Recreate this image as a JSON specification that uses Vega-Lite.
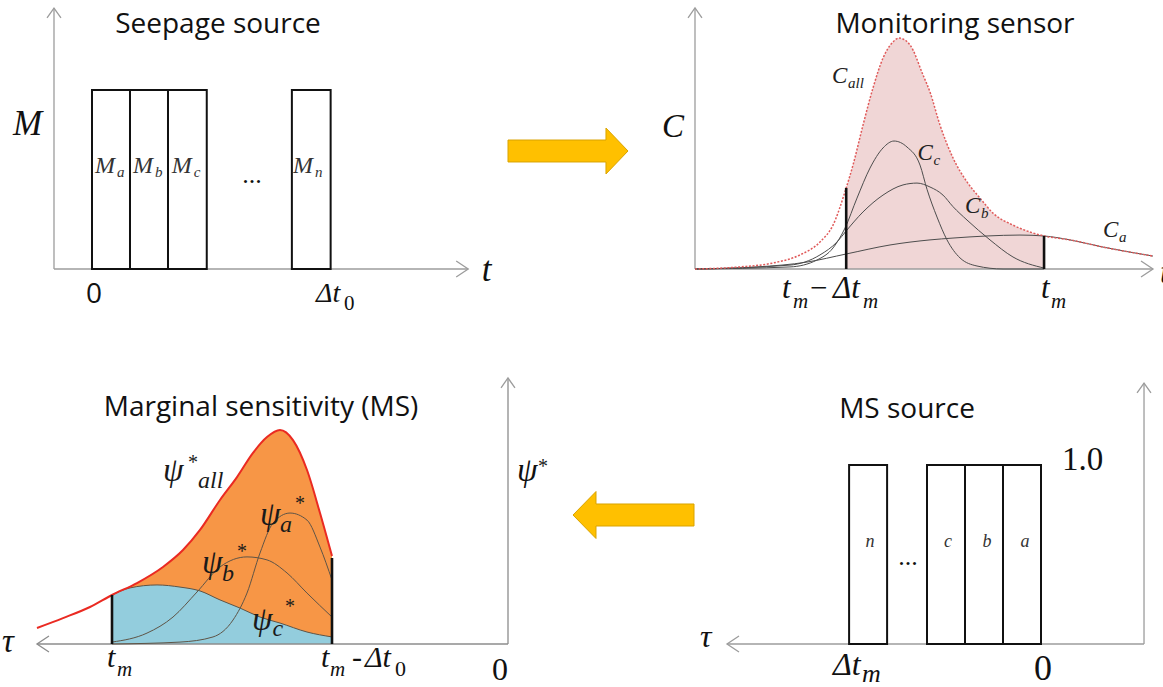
{
  "$schema": "https://vega.github.io/schema/vega-lite/v6.json",
  "background": "white",
  "padding": 0,
  "spacing": 0,
  "bounds": "full",
  "config": {"view": {"stroke": null}},
  "datasets": {
    "sourceBars": [
      {"source": "a", "t": 0, "t_end": 1, "M": 1},
      {"source": "b", "t": 1, "t_end": 2, "M": 1},
      {"source": "c", "t": 2, "t_end": 3.02, "M": 1},
      {"source": "n", "t": 5.26, "t_end": 6.28, "M": 1}
    ],
    "sourceAxes": [
      {"axis": "t", "t": 9.9, "M": 0},
      {"axis": "M", "t": -1, "M": 1.458}
    ],
    "sourceTitle": [{"t": 3.316, "M": 1.318, "label": "Seepage source"}],
    "sourceSymbols": [
      {"t": -2.079, "M": 0.749, "label": "M"},
      {"t": 10.26, "M": -0.067, "label": "t"}
    ],
    "sourceBarLabels": [
      {"t": 0.08, "M": 0.536, "main": "M", "sub": "a"},
      {"t": 1.08, "M": 0.536, "main": "M", "sub": "b"},
      {"t": 2.1, "M": 0.536, "main": "M", "sub": "c"},
      {"t": 5.29, "M": 0.536, "main": "M", "sub": "n"}
    ],
    "sourceDots": [{"t": 4.21, "M": 0.48, "label": "..."}],
    "sourceZero": [{"t": 0.05, "M": -0.19, "label": "0"}],
    "sourceTickMain": [{"t": 5.895, "M": -0.184, "label": "Δt"}],
    "sourceTickSub": [{"t": 6.632, "M": -0.229, "label": "0"}],

    "sensorAxes": [
      {"axis": "t", "t": 21.204, "C": 0},
      {"axis": "C", "t": 0, "C": 1.13}
    ],
    "sensorCurves": [
      {"curve": "C_all", "t": 0, "C": 0},
      {"curve": "C_all", "t": 2.083, "C": 0.009},
      {"curve": "C_all", "t": 3.611, "C": 0.026},
      {"curve": "C_all", "t": 4.861, "C": 0.061},
      {"curve": "C_all", "t": 5.787, "C": 0.117},
      {"curve": "C_all", "t": 6.389, "C": 0.19},
      {"curve": "C_all", "t": 7, "C": 0.351},
      {"curve": "C_all", "t": 7.315, "C": 0.45},
      {"curve": "C_all", "t": 7.778, "C": 0.623},
      {"curve": "C_all", "t": 8.241, "C": 0.784},
      {"curve": "C_all", "t": 8.704, "C": 0.913},
      {"curve": "C_all", "t": 9.167, "C": 0.983},
      {"curve": "C_all", "t": 9.444, "C": 1.0},
      {"curve": "C_all", "t": 9.954, "C": 0.97},
      {"curve": "C_all", "t": 10.556, "C": 0.84},
      {"curve": "C_all", "t": 10.88, "C": 0.766},
      {"curve": "C_all", "t": 11.343, "C": 0.623},
      {"curve": "C_all", "t": 11.944, "C": 0.481},
      {"curve": "C_all", "t": 12.593, "C": 0.377},
      {"curve": "C_all", "t": 13.194, "C": 0.307},
      {"curve": "C_all", "t": 13.796, "C": 0.242},
      {"curve": "C_all", "t": 14.722, "C": 0.19},
      {"curve": "C_all", "t": 15.648, "C": 0.156},
      {"curve": "C_all", "t": 16.16, "C": 0.143},
      {"curve": "C_all", "t": 17.361, "C": 0.126},
      {"curve": "C_all", "t": 18.889, "C": 0.095},
      {"curve": "C_all", "t": 21.204, "C": 0.056},

      {"curve": "C_a", "t": 0, "C": 0},
      {"curve": "C_a", "t": 2.87, "C": 0.009},
      {"curve": "C_a", "t": 5.185, "C": 0.03},
      {"curve": "C_a", "t": 7, "C": 0.065},
      {"curve": "C_a", "t": 9.028, "C": 0.104},
      {"curve": "C_a", "t": 10.88, "C": 0.126},
      {"curve": "C_a", "t": 11.944, "C": 0.134},
      {"curve": "C_a", "t": 13.519, "C": 0.143},
      {"curve": "C_a", "t": 15.046, "C": 0.147},
      {"curve": "C_a", "t": 16.16, "C": 0.143},
      {"curve": "C_a", "t": 17.361, "C": 0.126},
      {"curve": "C_a", "t": 18.889, "C": 0.095},
      {"curve": "C_a", "t": 21.204, "C": 0.056},

      {"curve": "C_b", "t": 0, "C": 0},
      {"curve": "C_b", "t": 4.398, "C": 0.017},
      {"curve": "C_b", "t": 5.787, "C": 0.061},
      {"curve": "C_b", "t": 6.574, "C": 0.117},
      {"curve": "C_b", "t": 7.0, "C": 0.165},
      {"curve": "C_b", "t": 7.778, "C": 0.247},
      {"curve": "C_b", "t": 8.704, "C": 0.32},
      {"curve": "C_b", "t": 9.63, "C": 0.364},
      {"curve": "C_b", "t": 10.278, "C": 0.372},
      {"curve": "C_b", "t": 10.88, "C": 0.355},
      {"curve": "C_b", "t": 11.481, "C": 0.32},
      {"curve": "C_b", "t": 11.944, "C": 0.27},
      {"curve": "C_b", "t": 12.593, "C": 0.212},
      {"curve": "C_b", "t": 13.657, "C": 0.126},
      {"curve": "C_b", "t": 14.722, "C": 0.052},
      {"curve": "C_b", "t": 16.16, "C": 0.004},

      {"curve": "C_c", "t": 0, "C": 0},
      {"curve": "C_c", "t": 4.398, "C": 0.009},
      {"curve": "C_c", "t": 5.648, "C": 0.039},
      {"curve": "C_c", "t": 6.389, "C": 0.091},
      {"curve": "C_c", "t": 6.944, "C": 0.177},
      {"curve": "C_c", "t": 7.5, "C": 0.307},
      {"curve": "C_c", "t": 8.102, "C": 0.437},
      {"curve": "C_c", "t": 8.704, "C": 0.524},
      {"curve": "C_c", "t": 9.213, "C": 0.554},
      {"curve": "C_c", "t": 9.815, "C": 0.528},
      {"curve": "C_c", "t": 10.417, "C": 0.45},
      {"curve": "C_c", "t": 10.741, "C": 0.345},
      {"curve": "C_c", "t": 11.204, "C": 0.225},
      {"curve": "C_c", "t": 11.667, "C": 0.126},
      {"curve": "C_c", "t": 12.269, "C": 0.048},
      {"curve": "C_c", "t": 13.056, "C": 0.013},
      {"curve": "C_c", "t": 14.259, "C": 0},
      {"curve": "C_c", "t": 16.16, "C": 0}
    ],
    "sensorWindow": [
      {"edge": "t_m - Δt_m", "t": 7, "C": 0.351},
      {"edge": "t_m", "t": 16.16, "C": 0.143}
    ],
    "sensorTitle": [{"t": 12.037, "C": 1.022, "label": "Monitoring sensor"}],
    "sensorSymbols": [
      {"t": -1.528, "C": 0.571, "label": "C"},
      {"t": 21.528, "C": -0.061, "label": "t"}
    ],
    "sensorCurveLabels": [
      {"t": 6.343, "C": 0.805, "main": "C", "sub": "all"},
      {"t": 10.3, "C": 0.472, "main": "C", "sub": "c"},
      {"t": 12.5, "C": 0.242, "main": "C", "sub": "b"},
      {"t": 18.889, "C": 0.139, "main": "C", "sub": "a"}
    ],
    "sensorTickMain": [
      {"t": 4.028, "C": -0.1255, "label": "t"},
      {"t": 5.231, "C": -0.1255, "label": "−"},
      {"t": 6.389, "C": -0.1255, "label": "Δt"},
      {"t": 16.019, "C": -0.1255, "label": "t"}
    ],
    "sensorTickSub": [
      {"t": 4.537, "C": -0.169, "label": "m"},
      {"t": 7.778, "C": -0.169, "label": "m"},
      {"t": 16.481, "C": -0.169, "label": "m"}
    ],

    "msAxes": [
      {"axis": "tau", "tau": 21.41, "psi": 0},
      {"axis": "psi", "tau": 0, "psi": 1.243}
    ],
    "msCurves": [
      {"curve": "psi_all", "tau": 21.409, "psi": 0.075},
      {"curve": "psi_all", "tau": 20.227, "psi": 0.121},
      {"curve": "psi_all", "tau": 19.0, "psi": 0.173},
      {"curve": "psi_all", "tau": 18.0, "psi": 0.229},
      {"curve": "psi_all", "tau": 16.864, "psi": 0.285},
      {"curve": "psi_all", "tau": 15.682, "psi": 0.36},
      {"curve": "psi_all", "tau": 14.773, "psi": 0.439},
      {"curve": "psi_all", "tau": 14.0, "psi": 0.533},
      {"curve": "psi_all", "tau": 13.091, "psi": 0.673},
      {"curve": "psi_all", "tau": 12.318, "psi": 0.78},
      {"curve": "psi_all", "tau": 11.591, "psi": 0.893},
      {"curve": "psi_all", "tau": 10.955, "psi": 0.967},
      {"curve": "psi_all", "tau": 10.364, "psi": 1.0},
      {"curve": "psi_all", "tau": 9.773, "psi": 0.953},
      {"curve": "psi_all", "tau": 9.136, "psi": 0.813},
      {"curve": "psi_all", "tau": 8.545, "psi": 0.612},
      {"curve": "psi_all", "tau": 8.0, "psi": 0.411},

      {"curve": "psi_c", "tau": 18.0, "psi": 0.229},
      {"curve": "psi_c", "tau": 17.182, "psi": 0.262},
      {"curve": "psi_c", "tau": 15.955, "psi": 0.276},
      {"curve": "psi_c", "tau": 14.909, "psi": 0.266},
      {"curve": "psi_c", "tau": 14.0, "psi": 0.248},
      {"curve": "psi_c", "tau": 13.091, "psi": 0.206},
      {"curve": "psi_c", "tau": 12.182, "psi": 0.168},
      {"curve": "psi_c", "tau": 11.273, "psi": 0.126},
      {"curve": "psi_c", "tau": 10.364, "psi": 0.098},
      {"curve": "psi_c", "tau": 9.136, "psi": 0.056},
      {"curve": "psi_c", "tau": 8.0, "psi": 0.033},

      {"curve": "psi_b", "tau": 18.0, "psi": 0.009},
      {"curve": "psi_b", "tau": 16.409, "psi": 0.051},
      {"curve": "psi_b", "tau": 15.227, "psi": 0.126},
      {"curve": "psi_b", "tau": 14.136, "psi": 0.243},
      {"curve": "psi_b", "tau": 13.091, "psi": 0.36},
      {"curve": "psi_b", "tau": 11.864, "psi": 0.407},
      {"curve": "psi_b", "tau": 10.955, "psi": 0.393},
      {"curve": "psi_b", "tau": 10.045, "psi": 0.332},
      {"curve": "psi_b", "tau": 9.136, "psi": 0.238},
      {"curve": "psi_b", "tau": 8.0, "psi": 0.126},

      {"curve": "psi_a", "tau": 18.0, "psi": 0},
      {"curve": "psi_a", "tau": 14.909, "psi": 0.009},
      {"curve": "psi_a", "tau": 13.409, "psi": 0.033},
      {"curve": "psi_a", "tau": 12.5, "psi": 0.112},
      {"curve": "psi_a", "tau": 11.864, "psi": 0.238},
      {"curve": "psi_a", "tau": 11.273, "psi": 0.425},
      {"curve": "psi_a", "tau": 10.682, "psi": 0.565},
      {"curve": "psi_a", "tau": 9.909, "psi": 0.612},
      {"curve": "psi_a", "tau": 9.136, "psi": 0.579},
      {"curve": "psi_a", "tau": 8.545, "psi": 0.453},
      {"curve": "psi_a", "tau": 8.0, "psi": 0.299}
    ],
    "msWindow": [
      {"edge": "t_m", "tau": 18, "psi": 0.229},
      {"edge": "t_m - Δt_0", "tau": 8, "psi": 0.402}
    ],
    "msTitle": [{"tau": 11.227, "psi": 1.065, "label": "Marginal sensitivity (MS)"}],
    "msSymbols": [
      {"tau": 23.0, "psi": -0.037, "label": "τ"},
      {"tau": -0.409, "psi": 0.762, "label": "ψ"}
    ],
    "msPsi": [
      {"tau": 15.682, "psi": 0.762, "label": "ψ"},
      {"tau": 11.273, "psi": 0.556, "label": "ψ"},
      {"tau": 13.909, "psi": 0.332, "label": "ψ"},
      {"tau": 11.636, "psi": 0.065, "label": "ψ"}
    ],
    "msSubs": [
      {"tau": 14.091, "psi": 0.729, "label": "all"},
      {"tau": 10.364, "psi": 0.523, "label": "a"},
      {"tau": 13.0, "psi": 0.294, "label": "b"},
      {"tau": 10.7, "psi": 0.037, "label": "c"}
    ],
    "msStars": [
      {"tau": 14.545, "psi": 0.818, "label": "*"},
      {"tau": 9.682, "psi": 0.626, "label": "*"},
      {"tau": 12.318, "psi": 0.402, "label": "*"},
      {"tau": 10.136, "psi": 0.145, "label": "*"},
      {"tau": -1.364, "psi": 0.799, "label": "*"}
    ],
    "msTickMain": [
      {"tau": 18.227, "psi": -0.107, "label": "t"},
      {"tau": 8.5, "psi": -0.107, "label": "t"},
      {"tau": 7.091, "psi": -0.107, "label": "-"},
      {"tau": 6.5, "psi": -0.107, "label": "Δt"}
    ],
    "msTickSub": [
      {"tau": 17.773, "psi": -0.15, "label": "m"},
      {"tau": 8.091, "psi": -0.15, "label": "m"}
    ],
    "msTickSubDigit": [{"tau": 5.136, "psi": -0.15, "label": "0"}],
    "msZero": [{"tau": 0.364, "psi": -0.168, "label": "0"}],

    "msSourceAxes": [
      {"axis": "tau", "tau": 8.263, "ms": 0},
      {"axis": "ms", "tau": -2.711, "ms": 1.458}
    ],
    "msSourceBars": [
      {"source": "a", "tau": 0, "tau_end": 1, "ms": 1.0},
      {"source": "b", "tau": 1, "tau_end": 2, "ms": 1.0},
      {"source": "c", "tau": 2, "tau_end": 3, "ms": 1.0},
      {"source": "n", "tau": 4.05, "tau_end": 5.05, "ms": 1.0}
    ],
    "msSourceTitle": [{"tau": 3.526, "ms": 1.263, "label": "MS source"}],
    "msSourceBarLabels": [
      {"tau": 0.421, "ms": 0.542, "label": "a"},
      {"tau": 1.421, "ms": 0.542, "label": "b"},
      {"tau": 2.447, "ms": 0.542, "label": "c"},
      {"tau": 4.5, "ms": 0.542, "label": "n"}
    ],
    "msSourceDots": [{"tau": 3.5, "ms": 0.441, "label": "..."}],
    "msSourceUnit": [{"tau": -0.553, "ms": 0.972, "label": "1.0"}],
    "msSourceSymbols": [{"tau": 8.974, "ms": -0.017, "label": "τ"}],
    "msSourceTickMain": [{"tau": 5.474, "ms": -0.173, "label": "Δt"}],
    "msSourceTickSub": [{"tau": 4.711, "ms": -0.212, "label": "m"}],
    "msSourceZero": [{"tau": -0.053, "ms": -0.201, "label": "0"}]
  },
  "vconcat": [
    {
      "spacing": 0,
      "bounds": "flush",
      "hconcat": [
        {
          "width": 500,
          "height": 350,
          "encoding": {
            "x": {"field": "t", "type": "quantitative", "scale": {"domain": [-2.421, 10.737], "nice": false, "zero": false}, "axis": null},
            "y": {"field": "M", "type": "quantitative", "scale": {"domain": [-0.4525, 1.5028], "nice": false, "zero": false}, "axis": null}
          },
          "layer": [
            {"data": {"name": "sourceAxes"}, "mark": {"type": "rule", "stroke": "#9c9c9c", "strokeWidth": 1.3}, "encoding": {"x2": {"datum": -1}, "y2": {"datum": 0}}},
            {"data": {"name": "sourceAxes"}, "transform": [{"filter": "datum.axis == 't'"}], "mark": {"type": "point", "shape": "M-1,-0.67L0,0L-1,0.67", "size": 576, "filled": false, "stroke": "#9c9c9c", "strokeWidth": 1.3, "opacity": 1}},
            {"data": {"name": "sourceAxes"}, "transform": [{"filter": "datum.axis == 'M'"}], "mark": {"type": "point", "shape": "M-0.58,0.83L0,0L0.58,0.83", "size": 576, "filled": false, "stroke": "#9c9c9c", "strokeWidth": 1.3, "opacity": 1}},
            {"data": {"name": "sourceBars"}, "mark": {"type": "rect", "fill": "white", "stroke": "#111111", "strokeWidth": 2}, "encoding": {"x2": {"field": "t_end"}, "y2": {"datum": 0}}},
            {"data": {"name": "sourceTitle"}, "mark": {"type": "text", "font": "Open Sans", "fontSize": 28, "align": "center", "baseline": "alphabetic", "color": "#111111"}, "encoding": {"text": {"field": "label"}}},
            {"data": {"name": "sourceSymbols"}, "mark": {"type": "text", "font": "Liberation Serif", "fontStyle": "italic", "fontSize": 35, "align": "left", "baseline": "alphabetic", "color": "#111111"}, "encoding": {"text": {"field": "label"}}},
            {"data": {"name": "sourceBarLabels"}, "mark": {"type": "text", "font": "Liberation Serif", "fontStyle": "italic", "fontSize": 24, "align": "left", "baseline": "alphabetic", "color": "#333333"}, "encoding": {"text": {"field": "main"}}},
            {"data": {"name": "sourceBarLabels"}, "mark": {"type": "text", "font": "Liberation Serif", "fontStyle": "italic", "fontSize": 15, "align": "left", "baseline": "alphabetic", "dx": 22, "dy": 4, "color": "#333333"}, "encoding": {"text": {"field": "sub"}}},
            {"data": {"name": "sourceDots"}, "mark": {"type": "text", "font": "Liberation Serif", "fontSize": 26, "align": "center", "baseline": "alphabetic", "color": "#111111"}, "encoding": {"text": {"field": "label"}}},
            {"data": {"name": "sourceZero"}, "mark": {"type": "text", "font": "Open Sans", "fontSize": 28, "align": "center", "baseline": "alphabetic", "color": "#111111"}, "encoding": {"text": {"field": "label"}}},
            {"data": {"name": "sourceTickMain"}, "mark": {"type": "text", "font": "Liberation Serif", "fontStyle": "italic", "fontSize": 28, "align": "left", "baseline": "alphabetic", "color": "#111111"}, "encoding": {"text": {"field": "label"}}},
            {"data": {"name": "sourceTickSub"}, "mark": {"type": "text", "font": "Liberation Serif", "fontSize": 21, "align": "left", "baseline": "alphabetic", "color": "#111111"}, "encoding": {"text": {"field": "label"}}}
          ]
        },
        {
          "width": 136,
          "height": 302,
          "data": {"values": [{"step": "seepage source → monitoring sensor"}]},
          "mark": {"type": "point", "shape": "M-1,-0.183L0.633,-0.183L0.633,-0.383L1,0L0.633,0.383L0.633,0.183L-1,0.183Z", "size": 14400, "filled": true, "fill": "#ffc000", "stroke": "#d9a300", "strokeWidth": 1, "opacity": 1},
          "encoding": {}
        },
        {
          "width": 527,
          "height": 350,
          "encoding": {
            "x": {"field": "t", "type": "quantitative", "scale": {"domain": [-2.7315, 21.6667], "nice": false, "zero": false}, "axis": null},
            "y": {"field": "C", "type": "quantitative", "scale": {"domain": [-0.3506, 1.1645], "nice": false, "zero": false}, "axis": null}
          },
          "layer": [
            {"data": {"name": "sensorCurves"}, "transform": [{"filter": "datum.curve == 'C_all' && datum.t >= 7 && datum.t <= 16.16"}], "mark": {"type": "area", "fill": "#f0d6d6", "interpolate": "monotone"}, "encoding": {"y2": {"datum": 0}}},
            {"data": {"name": "sensorAxes"}, "mark": {"type": "rule", "stroke": "#9c9c9c", "strokeWidth": 1.3}, "encoding": {"x2": {"datum": 0}, "y2": {"datum": 0}}},
            {"data": {"name": "sensorAxes"}, "transform": [{"filter": "datum.axis == 't'"}], "mark": {"type": "point", "shape": "M-1,-0.67L0,0L-1,0.67", "size": 576, "filled": false, "stroke": "#9c9c9c", "strokeWidth": 1.3, "opacity": 1}},
            {"data": {"name": "sensorAxes"}, "transform": [{"filter": "datum.axis == 'C'"}], "mark": {"type": "point", "shape": "M-0.58,0.83L0,0L0.58,0.83", "size": 576, "filled": false, "stroke": "#9c9c9c", "strokeWidth": 1.3, "opacity": 1}},
            {"data": {"name": "sensorCurves"}, "transform": [{"filter": "datum.curve != 'C_all'"}], "mark": {"type": "line", "stroke": "#4d4d4d", "strokeWidth": 1, "interpolate": "monotone"}, "encoding": {"detail": {"field": "curve"}}},
            {"data": {"name": "sensorCurves"}, "transform": [{"filter": "datum.curve == 'C_all'"}], "mark": {"type": "line", "stroke": "#e05a5a", "strokeWidth": 1.5, "strokeDash": [2, 1.6], "interpolate": "monotone"}},
            {"data": {"name": "sensorWindow"}, "mark": {"type": "rule", "stroke": "#111111", "strokeWidth": 2.6}, "encoding": {"y2": {"datum": 0}}},
            {"data": {"name": "sensorTitle"}, "mark": {"type": "text", "font": "Open Sans", "fontSize": 28, "align": "center", "baseline": "alphabetic", "color": "#111111"}, "encoding": {"text": {"field": "label"}}},
            {"data": {"name": "sensorSymbols"}, "mark": {"type": "text", "font": "Liberation Serif", "fontStyle": "italic", "fontSize": 33, "align": "left", "baseline": "alphabetic", "color": "#111111"}, "encoding": {"text": {"field": "label"}}},
            {"data": {"name": "sensorCurveLabels"}, "mark": {"type": "text", "font": "Liberation Serif", "fontStyle": "italic", "fontSize": 23, "align": "left", "baseline": "alphabetic", "color": "#222222"}, "encoding": {"text": {"field": "main"}}},
            {"data": {"name": "sensorCurveLabels"}, "mark": {"type": "text", "font": "Liberation Serif", "fontStyle": "italic", "fontSize": 15, "align": "left", "baseline": "alphabetic", "dx": 16, "dy": 5, "color": "#222222"}, "encoding": {"text": {"field": "sub"}}},
            {"data": {"name": "sensorTickMain"}, "mark": {"type": "text", "font": "Liberation Serif", "fontStyle": "italic", "fontSize": 31, "align": "left", "baseline": "alphabetic", "color": "#111111"}, "encoding": {"text": {"field": "label"}}},
            {"data": {"name": "sensorTickSub"}, "mark": {"type": "text", "font": "Liberation Serif", "fontStyle": "italic", "fontSize": 21, "align": "left", "baseline": "alphabetic", "color": "#111111"}, "encoding": {"text": {"field": "label"}}}
          ]
        }
      ]
    },
    {
      "spacing": 0,
      "bounds": "flush",
      "hconcat": [
        {
          "width": 560,
          "height": 337,
          "encoding": {
            "x": {"field": "tau", "type": "quantitative", "scale": {"domain": [-2.3636, 23.0909], "reverse": true, "nice": false, "zero": false}, "axis": null},
            "y": {"field": "psi", "type": "quantitative", "scale": {"domain": [-0.2009, 1.3738], "nice": false, "zero": false}, "axis": null}
          },
          "layer": [
            {"data": {"name": "msCurves"}, "transform": [{"filter": "datum.curve == 'psi_all' && datum.tau >= 8 && datum.tau <= 18"}], "mark": {"type": "area", "fill": "#f79646", "interpolate": "monotone"}, "encoding": {"y2": {"datum": 0}}},
            {"data": {"name": "msCurves"}, "transform": [{"filter": "datum.curve == 'psi_c'"}], "mark": {"type": "area", "fill": "#93cddd", "interpolate": "monotone"}, "encoding": {"y2": {"datum": 0}}},
            {"data": {"name": "msAxes"}, "mark": {"type": "rule", "stroke": "#8c8c8c", "strokeWidth": 1.3}, "encoding": {"x2": {"datum": 0}, "y2": {"datum": 0}}},
            {"data": {"name": "msAxes"}, "transform": [{"filter": "datum.axis == 'tau'"}], "mark": {"type": "point", "shape": "M1,-0.67L0,0L1,0.67", "size": 576, "filled": false, "stroke": "#8c8c8c", "strokeWidth": 1.3, "opacity": 1}},
            {"data": {"name": "msAxes"}, "transform": [{"filter": "datum.axis == 'psi'"}], "mark": {"type": "point", "shape": "M-0.58,0.83L0,0L0.58,0.83", "size": 576, "filled": false, "stroke": "#9c9c9c", "strokeWidth": 1.3, "opacity": 1}},
            {"data": {"name": "msCurves"}, "transform": [{"filter": "datum.curve != 'psi_all'"}], "mark": {"type": "line", "stroke": "#5e5446", "strokeWidth": 1, "interpolate": "monotone"}, "encoding": {"detail": {"field": "curve"}}},
            {"data": {"name": "msCurves"}, "transform": [{"filter": "datum.curve == 'psi_all'"}], "mark": {"type": "line", "stroke": "#ea2a22", "strokeWidth": 2, "interpolate": "monotone"}},
            {"data": {"name": "msWindow"}, "mark": {"type": "rule", "stroke": "#111111", "strokeWidth": 2.6}, "encoding": {"y2": {"datum": 0}}},
            {"data": {"name": "msTitle"}, "mark": {"type": "text", "font": "Open Sans", "fontSize": 28, "align": "center", "baseline": "alphabetic", "color": "#111111"}, "encoding": {"text": {"field": "label"}}},
            {"data": {"name": "msSymbols"}, "mark": {"type": "text", "font": "Liberation Serif", "fontStyle": "italic", "fontSize": 33, "align": "left", "baseline": "alphabetic", "color": "#111111"}, "encoding": {"text": {"field": "label"}}},
            {"data": {"name": "msPsi"}, "mark": {"type": "text", "font": "Liberation Serif", "fontStyle": "italic", "fontSize": 33, "align": "left", "baseline": "alphabetic", "color": "#1a1a1a"}, "encoding": {"text": {"field": "label"}}},
            {"data": {"name": "msSubs"}, "mark": {"type": "text", "font": "Liberation Serif", "fontStyle": "italic", "fontSize": 24, "align": "left", "baseline": "alphabetic", "color": "#1a1a1a"}, "encoding": {"text": {"field": "label"}}},
            {"data": {"name": "msStars"}, "mark": {"type": "text", "font": "Liberation Serif", "fontSize": 20, "align": "left", "baseline": "alphabetic", "color": "#1a1a1a"}, "encoding": {"text": {"field": "label"}}},
            {"data": {"name": "msTickMain"}, "mark": {"type": "text", "font": "Liberation Serif", "fontStyle": "italic", "fontSize": 30, "align": "left", "baseline": "alphabetic", "color": "#111111"}, "encoding": {"text": {"field": "label"}}},
            {"data": {"name": "msTickSub"}, "mark": {"type": "text", "font": "Liberation Serif", "fontStyle": "italic", "fontSize": 21, "align": "left", "baseline": "alphabetic", "color": "#111111"}, "encoding": {"text": {"field": "label"}}},
            {"data": {"name": "msTickSubDigit"}, "mark": {"type": "text", "font": "Liberation Serif", "fontSize": 22, "align": "left", "baseline": "alphabetic", "color": "#111111"}, "encoding": {"text": {"field": "label"}}},
            {"data": {"name": "msZero"}, "mark": {"type": "text", "font": "Liberation Serif", "fontSize": 32, "align": "center", "baseline": "alphabetic", "color": "#111111"}, "encoding": {"text": {"field": "label"}}}
          ]
        },
        {
          "width": 147,
          "height": 330,
          "data": {"values": [{"step": "MS source → marginal sensitivity"}]},
          "mark": {"type": "point", "shape": "M1,-0.182L-0.62,-0.182L-0.62,-0.388L-1,0L-0.62,0.388L-0.62,0.182L1,0.182Z", "size": 14641, "filled": true, "fill": "#ffc000", "stroke": "#d9a300", "strokeWidth": 1, "opacity": 1},
          "encoding": {}
        },
        {
          "width": 456,
          "height": 337,
          "encoding": {
            "x": {"field": "tau", "type": "quantitative", "scale": {"domain": [-3.2105, 8.7895], "reverse": true, "nice": false, "zero": false}, "axis": null},
            "y": {"field": "ms", "type": "quantitative", "scale": {"domain": [-0.2402, 1.6425], "nice": false, "zero": false}, "axis": null}
          },
          "layer": [
            {"data": {"name": "msSourceAxes"}, "mark": {"type": "rule", "stroke": "#9c9c9c", "strokeWidth": 1.3}, "encoding": {"x2": {"datum": -2.711}, "y2": {"datum": 0}}},
            {"data": {"name": "msSourceAxes"}, "transform": [{"filter": "datum.axis == 'tau'"}], "mark": {"type": "point", "shape": "M1,-0.67L0,0L1,0.67", "size": 576, "filled": false, "stroke": "#9c9c9c", "strokeWidth": 1.3, "opacity": 1}},
            {"data": {"name": "msSourceAxes"}, "transform": [{"filter": "datum.axis == 'ms'"}], "mark": {"type": "point", "shape": "M-0.58,0.83L0,0L0.58,0.83", "size": 576, "filled": false, "stroke": "#9c9c9c", "strokeWidth": 1.3, "opacity": 1}},
            {"data": {"name": "msSourceBars"}, "mark": {"type": "rect", "fill": "white", "stroke": "#111111", "strokeWidth": 2}, "encoding": {"x2": {"field": "tau_end"}, "y2": {"datum": 0}}},
            {"data": {"name": "msSourceTitle"}, "mark": {"type": "text", "font": "Open Sans", "fontSize": 28, "align": "center", "baseline": "alphabetic", "color": "#111111"}, "encoding": {"text": {"field": "label"}}},
            {"data": {"name": "msSourceBarLabels"}, "mark": {"type": "text", "font": "Liberation Serif", "fontStyle": "italic", "fontSize": 18, "align": "center", "baseline": "alphabetic", "color": "#333333"}, "encoding": {"text": {"field": "label"}}},
            {"data": {"name": "msSourceDots"}, "mark": {"type": "text", "font": "Liberation Serif", "fontSize": 26, "align": "center", "baseline": "alphabetic", "color": "#111111"}, "encoding": {"text": {"field": "label"}}},
            {"data": {"name": "msSourceUnit"}, "mark": {"type": "text", "font": "Liberation Serif", "fontSize": 33, "align": "left", "baseline": "alphabetic", "color": "#111111"}, "encoding": {"text": {"field": "label"}}},
            {"data": {"name": "msSourceSymbols"}, "mark": {"type": "text", "font": "Liberation Serif", "fontStyle": "italic", "fontSize": 32, "align": "left", "baseline": "alphabetic", "color": "#111111"}, "encoding": {"text": {"field": "label"}}},
            {"data": {"name": "msSourceTickMain"}, "mark": {"type": "text", "font": "Liberation Serif", "fontStyle": "italic", "fontSize": 32, "align": "left", "baseline": "alphabetic", "color": "#111111"}, "encoding": {"text": {"field": "label"}}},
            {"data": {"name": "msSourceTickSub"}, "mark": {"type": "text", "font": "Liberation Serif", "fontStyle": "italic", "fontSize": 26, "align": "left", "baseline": "alphabetic", "color": "#111111"}, "encoding": {"text": {"field": "label"}}},
            {"data": {"name": "msSourceZero"}, "mark": {"type": "text", "font": "Liberation Serif", "fontSize": 36, "align": "center", "baseline": "alphabetic", "color": "#111111"}, "encoding": {"text": {"field": "label"}}}
          ]
        }
      ]
    }
  ]
}
